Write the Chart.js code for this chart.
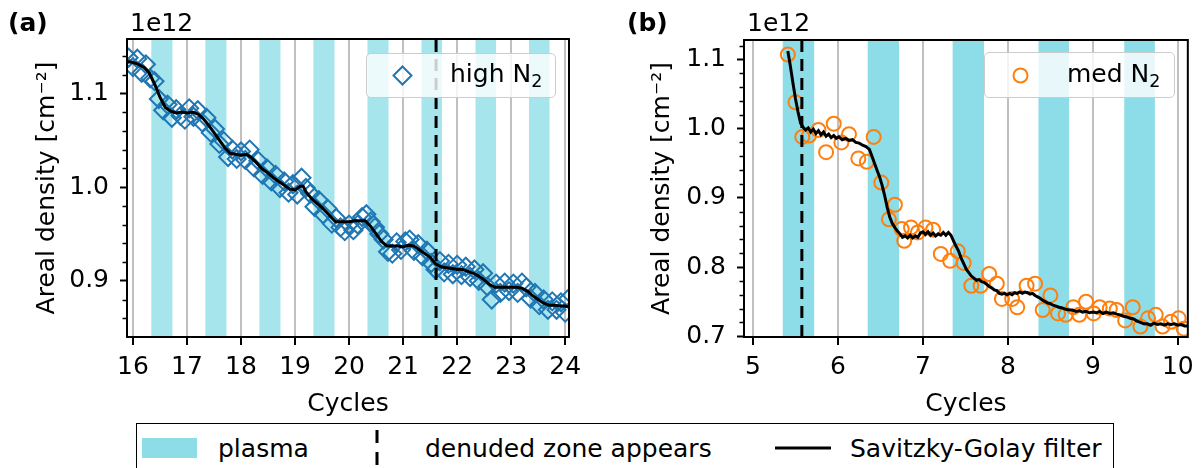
<!DOCTYPE html>
<html><head><meta charset="utf-8">
<script src="https://cdn.jsdelivr.net/npm/chart.js@4"></script>
<style>
html,body{margin:0;padding:0;background:#fff;}
#wrap{position:relative;width:1201px;height:468px;overflow:hidden;font-family:'DejaVu Sans',sans-serif;color:#000;background:#fff;}
canvas{position:absolute;top:0;}
.t{position:absolute;font-size:25px;line-height:30px;white-space:nowrap;}
.b{font-weight:bold;}
.leg{position:absolute;box-sizing:border-box;border:1.5px solid #cccccc;border-radius:5px;background:rgba(255,255,255,0.8);}
sub{font-size:0.7em;vertical-align:-0.28em;line-height:0;}
#bleg{position:absolute;left:136px;top:423px;width:978px;height:70px;box-sizing:border-box;border:1.5px solid #000;background:#fff;}
</style></head>
<body><div id="wrap">
<canvas id="ca" width="600" height="420" style="left:0px"></canvas>
<canvas id="cb" width="601" height="420" style="left:600px"></canvas>

<div class="t b" style="left:8px;top:8px;">(a)</div>
<div class="t" style="left:130px;top:8px;">1e12</div>
<div class="t b" style="left:627px;top:8px;">(b)</div>
<div class="t" style="left:747px;top:8px;">1e12</div>

<div class="leg" style="left:366px;top:53px;width:190px;height:45px;"></div>
<svg style="position:absolute;left:390px;top:63px" width="25" height="25"><path d="M12.5,3.5 L21.5,12.5 L12.5,21.5 L3.5,12.5 Z" fill="none" stroke="#1f77b4" stroke-width="2"/></svg>
<div class="t" style="left:450px;top:59px;">high N<sub>2</sub></div>

<div class="leg" style="left:984px;top:52px;width:191px;height:46px;"></div>
<svg style="position:absolute;left:1008px;top:63px" width="25" height="25"><circle cx="12.5" cy="12.5" r="7" fill="none" stroke="#ff7f0e" stroke-width="2"/></svg>
<div class="t" style="left:1067px;top:59px;">med N<sub>2</sub></div>

<div id="bleg"></div>
<div style="position:absolute;left:142px;top:438px;width:55px;height:20px;background:#8cdde6;"></div>
<div class="t" style="left:218px;top:434px;">plasma</div>
<svg style="position:absolute;left:370px;top:428px" width="14" height="40"><line x1="7" y1="2" x2="7" y2="38" stroke="#000" stroke-width="3" stroke-dasharray="13 9"/></svg>
<div class="t" style="left:425px;top:434px;">denuded zone appears</div>
<svg style="position:absolute;left:775px;top:440px" width="56" height="16"><line x1="0" y1="8" x2="56" y2="8" stroke="#000" stroke-width="3"/></svg>
<div class="t" style="left:850px;top:434px;">Savitzky-Golay filter</div>
</div>

<script>
// ---------- data (areal density in units of 1e12 cm^-2) ----------
const cyclesHigh = [15.92,16.00,16.08,16.16,16.24,16.32,16.40,16.48,16.56,16.64,16.72,16.80,16.88,16.96,17.04,17.12,17.20,17.28,17.36,17.44,17.52,17.60,17.68,17.76,17.84,17.92,18.00,18.08,18.16,18.24,18.32,18.40,18.48,18.56,18.64,18.72,18.80,18.88,18.96,19.04,19.12,19.20,19.28,19.36,19.44,19.52,19.60,19.68,19.76,19.84,19.92,20.00,20.08,20.16,20.24,20.32,20.40,20.48,20.56,20.64,20.72,20.80,20.88,20.96,21.04,21.12,21.20,21.28,21.36,21.44,21.52,21.60,21.68,21.76,21.84,21.92,22.00,22.08,22.16,22.24,22.32,22.40,22.48,22.56,22.64,22.72,22.80,22.88,22.96,23.04,23.12,23.20,23.28,23.36,23.44,23.52,23.60,23.68,23.76,23.84,23.92,24.00,24.06];
const densityHigh = [1.138,1.128,1.137,1.122,1.131,1.116,1.113,1.094,1.082,1.088,1.074,1.083,1.076,1.072,1.084,1.075,1.082,1.069,1.074,1.058,1.062,1.046,1.049,1.032,1.040,1.030,1.038,1.029,1.040,1.021,1.028,1.013,1.020,1.006,1.013,0.999,1.006,0.994,1.003,0.992,1.010,0.999,0.993,0.979,0.986,0.971,0.977,0.961,0.967,0.957,0.953,0.960,0.954,0.960,0.968,0.971,0.963,0.957,0.950,0.944,0.931,0.929,0.941,0.933,0.942,0.944,0.932,0.939,0.926,0.932,0.919,0.912,0.921,0.909,0.918,0.907,0.917,0.906,0.915,0.904,0.912,0.900,0.908,0.894,0.880,0.897,0.887,0.898,0.889,0.897,0.887,0.898,0.893,0.881,0.887,0.874,0.880,0.869,0.878,0.869,0.877,0.866,0.881];
const sgCyclesHigh = [15.9,16.0,16.1,16.2,16.3,16.4,16.5,16.6,16.7,16.8,16.9,17.0,17.1,17.2,17.3,17.4,17.5,17.6,17.7,17.8,17.9,18.0,18.1,18.2,18.3,18.4,18.5,18.6,18.7,18.8,18.9,19.0,19.1,19.15,19.2,19.3,19.4,19.5,19.6,19.7,19.75,19.9,20.0,20.1,20.2,20.3,20.4,20.5,20.6,20.7,20.8,20.9,21.0,21.1,21.2,21.3,21.4,21.5,21.6,21.7,21.8,21.9,22.0,22.1,22.2,22.3,22.4,22.5,22.6,22.7,22.8,22.9,23.0,23.1,23.2,23.3,23.4,23.5,23.6,23.7,23.8,23.9,24.0,24.07];
const sgHigh = [1.134,1.133,1.131,1.128,1.122,1.110,1.096,1.085,1.081,1.079,1.080,1.079,1.080,1.078,1.073,1.066,1.058,1.050,1.042,1.036,1.035,1.034,1.035,1.031,1.025,1.019,1.015,1.010,1.006,1.002,0.998,0.997,1.001,1.001,0.995,0.988,0.983,0.978,0.972,0.966,0.963,0.963,0.963,0.964,0.964,0.964,0.958,0.950,0.942,0.937,0.937,0.937,0.936,0.938,0.937,0.933,0.929,0.925,0.918,0.915,0.914,0.913,0.912,0.912,0.910,0.908,0.905,0.901,0.896,0.893,0.893,0.893,0.893,0.893,0.892,0.889,0.884,0.880,0.876,0.874,0.874,0.873,0.873,0.872];

const cyclesMed = [5.41,5.50,5.58,5.66,5.77,5.86,5.95,6.04,6.13,6.24,6.34,6.42,6.51,6.60,6.67,6.75,6.78,6.86,6.94,7.03,7.12,7.21,7.32,7.41,7.48,7.57,7.68,7.78,7.87,7.93,8.05,8.11,8.22,8.32,8.41,8.50,8.59,8.68,8.77,8.84,8.92,9.01,9.08,9.20,9.28,9.38,9.47,9.56,9.65,9.74,9.82,9.92,10.01,10.07];
const densityMed = [1.107,1.038,0.988,0.990,0.998,0.966,1.007,0.980,0.992,0.957,0.952,0.988,0.922,0.869,0.890,0.855,0.838,0.857,0.850,0.857,0.854,0.819,0.809,0.823,0.806,0.773,0.773,0.790,0.776,0.754,0.754,0.742,0.773,0.776,0.738,0.759,0.733,0.731,0.742,0.731,0.750,0.733,0.742,0.740,0.738,0.723,0.742,0.714,0.726,0.731,0.714,0.721,0.726,0.711];
const sgCyclesMed = [5.41,5.44,5.47,5.50,5.53,5.56,5.59,5.62,5.65,5.68,5.71,5.74,5.77,5.80,5.83,5.86,5.89,5.92,5.95,5.98,6.01,6.05,6.09,6.13,6.17,6.21,6.25,6.29,6.33,6.37,6.40,6.43,6.46,6.49,6.52,6.55,6.58,6.61,6.64,6.67,6.70,6.73,6.76,6.79,6.82,6.85,6.88,6.91,6.94,6.97,7.00,7.03,7.06,7.09,7.12,7.15,7.18,7.21,7.24,7.27,7.30,7.33,7.36,7.39,7.42,7.45,7.48,7.51,7.54,7.57,7.60,7.63,7.66,7.69,7.72,7.75,7.78,7.81,7.84,7.87,7.90,7.93,7.96,7.99,8.02,8.05,8.08,8.11,8.14,8.17,8.20,8.23,8.26,8.29,8.32,8.35,8.38,8.41,8.44,8.47,8.50,8.53,8.56,8.60,8.64,8.68,8.72,8.76,8.80,8.84,8.88,8.92,8.96,9.00,9.04,9.08,9.12,9.16,9.20,9.24,9.28,9.32,9.36,9.40,9.44,9.48,9.52,9.56,9.60,9.64,9.68,9.72,9.76,9.80,9.84,9.88,9.92,9.96,10.00,10.04,10.08,10.12];
const sgMed = [1.112,1.090,1.066,1.043,1.024,1.008,1.002,0.998,1.001,0.995,0.999,0.993,0.997,0.991,0.995,0.989,0.992,0.987,0.990,0.986,0.988,0.984,0.986,0.983,0.984,0.980,0.979,0.976,0.974,0.970,0.960,0.950,0.940,0.930,0.918,0.903,0.886,0.872,0.863,0.857,0.852,0.848,0.843,0.845,0.842,0.846,0.842,0.845,0.843,0.849,0.851,0.847,0.851,0.846,0.849,0.845,0.848,0.846,0.850,0.846,0.850,0.846,0.838,0.830,0.823,0.813,0.805,0.797,0.792,0.787,0.784,0.781,0.782,0.779,0.778,0.775,0.772,0.770,0.767,0.766,0.762,0.761,0.762,0.760,0.762,0.760,0.763,0.762,0.764,0.762,0.764,0.763,0.761,0.762,0.759,0.757,0.755,0.752,0.750,0.748,0.747,0.745,0.744,0.742,0.741,0.739,0.738,0.738,0.736,0.737,0.735,0.736,0.734,0.735,0.734,0.736,0.733,0.735,0.733,0.734,0.732,0.731,0.729,0.728,0.726,0.725,0.722,0.720,0.718,0.718,0.716,0.719,0.717,0.718,0.716,0.718,0.717,0.718,0.716,0.717,0.715,0.715];

const plasmaStartA = [16.34,17.34,18.34,19.34,20.34,21.34,22.34,23.33];
const plasmaEndA   = [16.73,17.73,18.73,19.73,20.73,21.72,22.72,23.71];
const plasmaStartB = [5.35,6.35,7.35,8.36,9.37];
const plasmaEndB   = [5.72,6.72,7.72,8.72,9.73];
const denudedA = 21.61;
const denudedB = 5.575;

const xTicksA = [16,17,18,19,20,21,22,23,24];
const yTicksA = [0.9,1.0,1.1];
const yMinorA = [0.86,0.88,0.92,0.94,0.96,0.98,1.02,1.04,1.06,1.08,1.12,1.14];
const xTicksB = [5,6,7,8,9,10];
const yTicksB = [0.7,0.8,0.9,1.0,1.1];
const yMinorB = [0.72,0.74,0.76,0.78,0.82,0.84,0.86,0.88,0.92,0.94,0.96,0.98,1.02,1.04,1.06,1.08,1.12];

// ---------- drawing ----------
const FONT = {family:"'DejaVu Sans', sans-serif", size:25};
const pairs = (xs, ys) => xs.map((x, i) => ({x, y: ys[i]}));

const axPlugin = {
  id: 'ax',
  beforeDatasetsDraw(chart, args, o) {
    const {ctx, chartArea: a, scales: {x}} = chart;
    ctx.save();
    ctx.fillStyle = o.bandColor;
    o.bandStart.forEach((s, i) => {
      const x0 = x.getPixelForValue(s), x1 = x.getPixelForValue(o.bandEnd[i]);
      ctx.fillRect(x0, a.top, x1 - x0, a.bottom - a.top);
    });
    ctx.restore();
  },
  afterDatasetsDraw(chart, args, o) {
    const {ctx, chartArea: a, scales: {x}} = chart;
    const px = x.getPixelForValue(o.denuded);
    ctx.save();
    ctx.strokeStyle = '#000'; ctx.lineWidth = 3; ctx.setLineDash([12, 7]);
    ctx.beginPath(); ctx.moveTo(px, a.bottom); ctx.lineTo(px, a.top); ctx.stroke();
    ctx.restore();
  },
  afterDraw(chart, args, o) {
    const {ctx, chartArea: a, scales: {y}} = chart;
    ctx.save();
    ctx.strokeStyle = '#000'; ctx.lineWidth = 1.5;
    o.minor.forEach(v => {
      const py = Math.round(y.getPixelForValue(v)) + 0.5;
      ctx.beginPath(); ctx.moveTo(a.left - 4.5, py); ctx.lineTo(a.left, py); ctx.stroke();
    });
    ctx.lineWidth = 2;
    ctx.strokeRect(a.left, a.top, a.right - a.left, a.bottom - a.top);
    ctx.restore();
  }
};

function makeChart(id, c) {
  return new Chart(document.getElementById(id), {
    type: 'scatter',
    data: {datasets: [
      {type: 'line', data: c.line, borderColor: '#000', borderWidth: 3, pointRadius: 0, fill: false, tension: 0, order: 0, clip: 0},
      {type: 'scatter', data: c.pts, pointStyle: c.style, pointRadius: c.r, borderColor: c.color, backgroundColor: 'rgba(0,0,0,0)', borderWidth: 2, order: 1, clip: 0}
    ]},
    options: {
      responsive: false, animation: false, events: [],
      layout: {padding: {left: 0, top: c.top, right: c.right, bottom: 0}},
      plugins: {legend: {display: false}, tooltip: {enabled: false},
        ax: {bandColor: c.bandColor, bandStart: c.bandStart, bandEnd: c.bandEnd, denuded: c.denuded, minor: c.minor}},
      scales: {
        x: {type: 'linear', min: c.xmin, max: c.xmax,
          afterBuildTicks: s => { s.ticks = c.xTicks.map(v => ({value: v})); },
          afterFit: s => { s.height = 83; },
          grid: {color: '#c0c0c0', lineWidth: 2, tickColor: '#000', tickWidth: 2, tickLength: 8, drawOnChartArea: true},
          border: {display: false},
          ticks: {font: FONT, color: '#000', padding: 7, maxRotation: 0, autoSkip: false, callback: v => String(v)},
          title: {display: true, text: 'Cycles', font: FONT, color: '#000', padding: {top: 0, bottom: 1}}},
        y: {type: 'linear', min: c.ymin, max: c.ymax,
          afterBuildTicks: s => { s.ticks = c.yTicks.map(v => ({value: v})); },
          afterFit: s => { s.width = c.yw; },
          grid: {drawOnChartArea: false, tickColor: '#000', tickWidth: 2, tickLength: 7},
          border: {display: false},
          ticks: {font: FONT, color: '#000', padding: 11, callback: v => v.toFixed(1)},
          title: {display: true, text: 'Areal density [cm\u207B\u00B2]', font: FONT, color: '#000', padding: {top: c.tpad, bottom: 0}}}
      }
    },
    plugins: [axPlugin]
  });
}

makeChart('ca', {
  line: pairs(sgCyclesHigh, sgHigh), pts: pairs(cyclesHigh, densityHigh),
  style: 'rectRot', r: 9, color: '#1f77b4',
  top: 39, right: 31, yw: 127, tpad: 32,
  xmin: 15.89, xmax: 24.07, ymin: 0.840, ymax: 1.158,
  xTicks: xTicksA, yTicks: yTicksA, minor: yMinorA,
  bandColor: '#a6e5ec', bandStart: plasmaStartA, bandEnd: plasmaEndA, denuded: denudedA
});
makeChart('cb', {
  line: pairs(sgCyclesMed, sgMed), pts: pairs(cyclesMed, densityMed),
  style: 'circle', r: 7, color: '#ff7f0e',
  top: 40, right: 13, yw: 144, tpad: 47.5,
  xmin: 4.894, xmax: 10.118, ymin: 0.699, ymax: 1.128,
  xTicks: xTicksB, yTicks: yTicksB, minor: yMinorB,
  bandColor: '#8cdde7', bandStart: plasmaStartB, bandEnd: plasmaEndB, denuded: denudedB
});
</script>
</body></html>
